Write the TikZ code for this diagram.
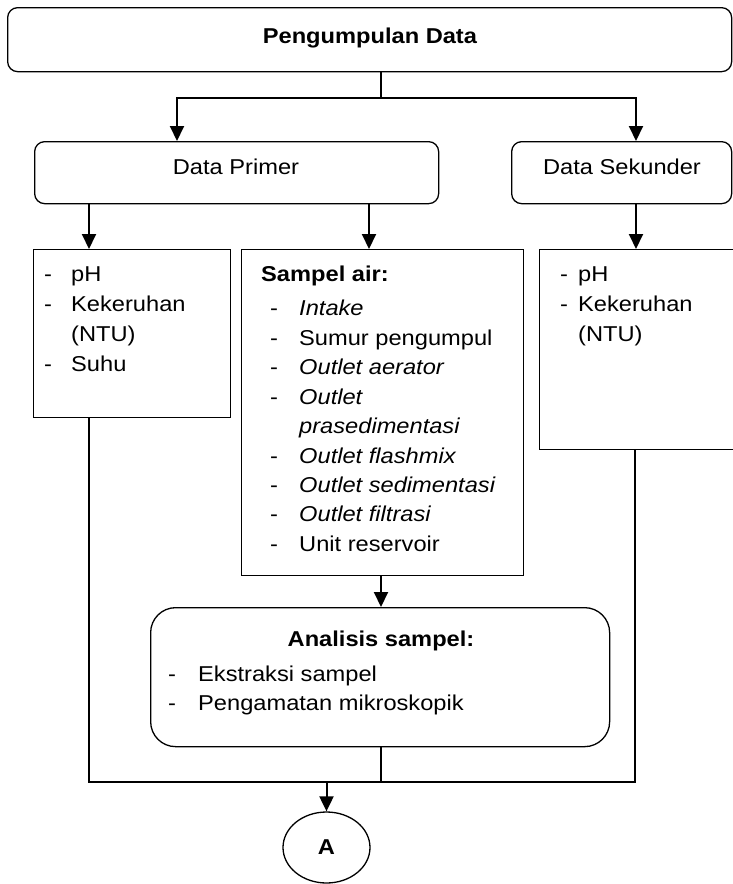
\documentclass[tikz,border=0pt]{standalone}
\usepackage{fontspec}
\setmainfont{Liberation Sans}[FakeStretch=1.1]
\usetikzlibrary{arrows.meta,shapes.geometric}
\tikzset{
  rbox/.style={draw, line width=1.3pt, rounded corners=10pt, anchor=north west, inner sep=0pt},
  sbox/.style={draw, line width=1.3pt, anchor=north west, inner sep=0pt},
  txt/.style={anchor=base west, inner sep=0pt},
  ctxt/.style={anchor=base, inner sep=0pt},
  ln/.style={line width=1.1pt},
  ln2/.style={line width=1.6pt},
  arr/.style={line width=2pt, -{Triangle[length=15pt,width=14pt]}},
}
\begin{document}
\begin{tikzpicture}[x=1pt,y=-1pt, every node/.append style={font=\fontsize{21.5}{26}\selectfont}]
\useasboundingbox (0,0) rectangle (733,884);
\clip (0,0) rectangle (733,884);
% boxes
\node[rbox, minimum width=724pt, minimum height=64pt] (top) at (7,7) {};
\node[rbox, minimum width=404pt, minimum height=62pt] (prim) at (34,141) {};
\node[rbox, minimum width=220pt, minimum height=62pt] (sek) at (511,141) {};
\node[sbox, minimum width=197pt, minimum height=168pt] (lbox) at (33,249) {};
\node[sbox, minimum width=282pt, minimum height=326pt] (mbox) at (241,249) {};
\node[sbox, minimum width=210pt, minimum height=200pt] (rbox) at (539,249) {};
\node[rbox, rounded corners=25pt, minimum width=459pt, minimum height=139pt] (anal) at (150,607) {};
\node[draw, ellipse, line width=1.3pt, minimum width=87pt, minimum height=71pt, inner sep=0pt] (circ) at (326.5,847.5) {\textbf{A}};
% texts
\node[ctxt] (t0) at (370,43) {\textbf{Pengumpulan Data}};
\node[ctxt] (t1) at (236,174) {Data Primer};
\node[ctxt] (t2) at (622,174) {Data Sekunder};
% left box
\node[txt] (l1d) at (44,281) {-};
\node[txt] (l1) at (71,281) {pH};
\node[txt] (l2d) at (44,311) {-};
\node[txt] (l2) at (71,311) {Kekeruhan};
\node[txt] (l3) at (71,341) {(NTU)};
\node[txt] (l4d) at (44,371) {-};
\node[txt] (l4) at (71,371) {Suhu};
% middle box
\node[txt] (m0) at (261,281) {\textbf{Sampel air:}};
\node[txt] (m1d) at (270,315) {-};
\node[txt] (m1) at (299,315) {\textit{Intake}};
\node[txt] (m2d) at (270,345) {-};
\node[txt] (m2) at (299,345) {Sumur pengumpul};
\node[txt] (m3d) at (270,374) {-};
\node[txt] (m3) at (299,374) {\textit{Outlet aerator}};
\node[txt] (m4d) at (270,404) {-};
\node[txt] (m4) at (299,404) {\textit{Outlet}};
\node[txt] (m5) at (299,433) {\textit{prasedimentasi}};
\node[txt] (m6d) at (270,463) {-};
\node[txt] (m6) at (299,463) {\textit{Outlet flashmix}};
\node[txt] (m7d) at (270,492) {-};
\node[txt] (m7) at (299,492) {\textit{Outlet sedimentasi}};
\node[txt] (m8d) at (270,521) {-};
\node[txt] (m8) at (299,521) {\textit{Outlet filtrasi}};
\node[txt] (m9d) at (270,551) {-};
\node[txt] (m9) at (299,551) {Unit reservoir};
% right box
\node[txt] (r1d) at (560,281) {-};
\node[txt] (r1) at (578,281) {pH};
\node[txt] (r2d) at (560,311) {-};
\node[txt] (r2) at (578,311) {Kekeruhan};
\node[txt] (r3) at (578,341) {(NTU)};
% analisis
\node[ctxt] (a0) at (381,646) {\textbf{Analisis sampel:}};
\node[txt] (a1d) at (168,681) {-};
\node[txt] (a1) at (198,681) {Ekstraksi sampel};
\node[txt] (a2d) at (168,710) {-};
\node[txt] (a2) at (198,710) {Pengamatan mikroskopik};
% helper coordinates
\coordinate (j1) at (381,98);
\coordinate (xA) at (177,0);
\coordinate (xB) at (636,0);
\coordinate (xC) at (89,0);
\coordinate (xD) at (369,0);
\coordinate (xE) at (381,0);
\coordinate (xF) at (635,0);
\coordinate (xG) at (326.5,0);
\coordinate (yB) at (0,782);
% connectors
\draw[ln] (top.south -| xE) -- (j1);
\draw[arr] (j1) -| (prim.north -| xA);
\draw[arr] (j1) -| (sek.north -| xB);
\draw[arr] (prim.south -| xC) -- (lbox.north -| xC);
\draw[arr] (prim.south -| xD) -- (mbox.north -| xD);
\draw[arr] (sek.south -| xB) -- (rbox.north -| xB);
\draw[arr] (mbox.south -| xE) -- (anal.north -| xE);
\draw[ln2] (lbox.south -| xC) |- (yB -| xF) -- (rbox.south -| xF);
\draw[ln] (anal.south -| xE) -- (yB -| xE);
\draw[arr] (yB -| xG) -- (circ.north);
\end{tikzpicture}
\end{document}
